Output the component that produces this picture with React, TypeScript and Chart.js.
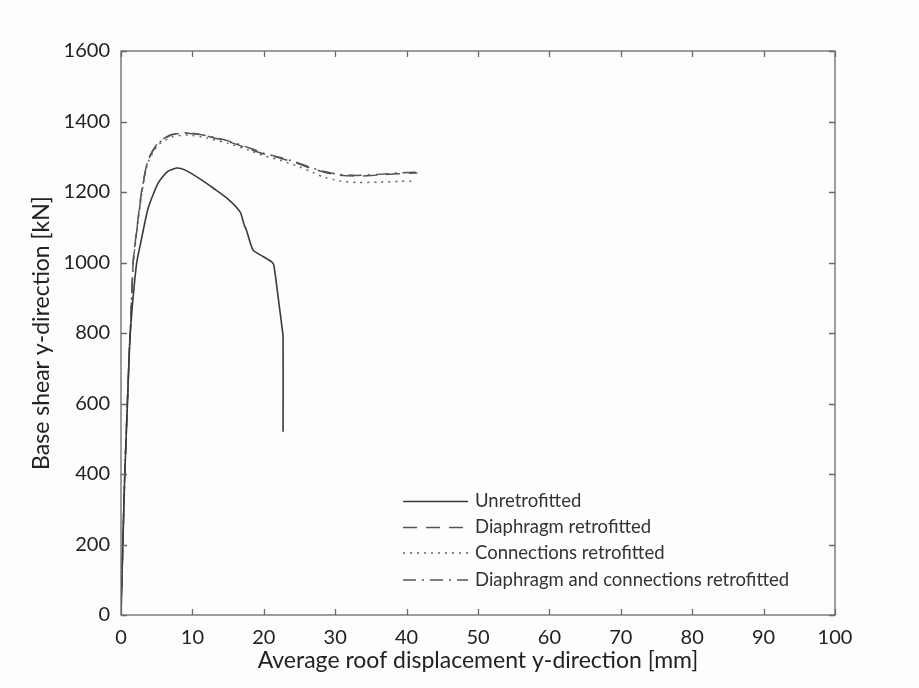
import React, { useEffect, useRef } from "react";
import { Chart, registerables } from "chart.js";

Chart.register(...registerables);

// ---- data ----
const xTickValues = [0, 10, 20, 30, 40, 50, 60, 70, 80, 90, 100];
const yTickValues = [0, 200, 400, 600, 800, 1000, 1200, 1400, 1600];

const seriesLabels = [
  "Unretrofitted",
  "Diaphragm retrofitted",
  "Connections retrofitted",
  "Diaphragm and connections retrofitted",
];

const unretroX = [0, 0.5, 0.9, 1.17, 1.3, 1.6, 2.2, 2.7, 3.8, 5.2, 6.5, 7.8, 9.0, 11.0, 13.0, 15.0, 16.7, 17.2, 17.6, 18.5, 19.9, 21.1, 21.4, 22.0, 22.6, 22.7, 22.7];
const unretroY = [0, 380, 600, 750, 800, 880, 1000, 1050, 1154, 1225, 1258, 1268, 1262, 1238, 1210, 1180, 1143, 1110, 1090, 1035, 1017, 1002, 993, 903, 808, 790, 520];

const diaphX = [0, 0.5, 1.17, 1.3, 1.7, 2.0, 2.9, 3.8, 5.2, 7.1, 9.4, 12, 15, 18, 20, 22.3, 24.5, 26.5, 28.5, 30.5, 33, 36, 39, 41.5];
const diaphY = [0, 380, 750, 800, 1000, 1058, 1205, 1292, 1340, 1363, 1367, 1359, 1343, 1322, 1308, 1296, 1283, 1268, 1256, 1248, 1245, 1248, 1252, 1254];

const connX = [0, 0.5, 1.17, 1.3, 1.7, 2.0, 2.9, 3.8, 5.2, 7.1, 9.4, 12, 15, 18, 20, 22.3, 24.5, 26.5, 28.3, 30.7, 33, 36, 39, 41.3];
const connY = [0, 380, 750, 800, 995, 1050, 1195, 1285, 1333, 1356, 1362, 1353, 1338, 1318, 1303, 1290, 1275, 1259, 1243, 1231, 1227, 1228, 1230, 1231];

const bothX = [0, 0.5, 1.17, 1.3, 1.7, 2.0, 2.9, 3.8, 5.2, 7.1, 9.4, 12, 15, 18, 20, 22.3, 24.5, 26.5, 28.5, 30.5, 33, 36, 39, 41.5];
const bothY = [0, 380, 750, 800, 1000, 1055, 1200, 1290, 1338, 1362, 1368, 1360, 1345, 1325, 1310, 1298, 1285, 1270, 1258, 1250, 1247, 1250, 1254, 1256];

const toPoints = (xs: number[], ys: number[]) => xs.map((x, i) => ({ x, y: ys[i] }));

const FONT = "Lato, 'Open Sans', sans-serif";

const frameAndLegend = {
  id: "frameAndLegend",
  afterDraw(chart: any) {
    const ctx = chart.ctx;
    const { left, right, top, bottom } = chart.chartArea;
    const xs = chart.scales.x;
    const ys = chart.scales.y;
    ctx.save();
    ctx.strokeStyle = "#6a6a6a";
    ctx.lineWidth = 1.3;
    ctx.setLineDash([]);
    ctx.strokeRect(left, top, right - left, bottom - top);
    const tl = 6;
    ctx.beginPath();
    xTickValues.forEach((v) => {
      const px = Math.round(xs.getPixelForValue(v)) + 0.5;
      ctx.moveTo(px, bottom);
      ctx.lineTo(px, bottom - tl);
      ctx.moveTo(px, top);
      ctx.lineTo(px, top + tl);
    });
    yTickValues.forEach((v) => {
      const py = Math.round(ys.getPixelForValue(v)) + 0.5;
      ctx.moveTo(left, py);
      ctx.lineTo(left + tl, py);
      ctx.moveTo(right, py);
      ctx.lineTo(right - tl, py);
    });
    ctx.stroke();

    // legend
    const rows = [501.5, 527.5, 553, 580];
    const x1 = 403;
    const x2 = 468;
    chart.data.datasets.forEach((ds: any, i: number) => {
      const y = rows[i];
      ctx.strokeStyle = ds.borderColor;
      ctx.lineWidth = ds.borderWidth;
      ctx.setLineDash(ds.borderDash || []);
      ctx.beginPath();
      ctx.moveTo(x1, y);
      ctx.lineTo(x2, y);
      ctx.stroke();
      ctx.setLineDash([]);
      ctx.fillStyle = "#333";
      ctx.font = `18.5px ${FONT}`;
      ctx.textBaseline = "middle";
      ctx.textAlign = "left";
      ctx.fillText(ds.label, 475, y);
    });
    ctx.restore();
  },
};

export default function App() {
  const ref = useRef<HTMLCanvasElement | null>(null);
  useEffect(() => {
    if (!ref.current) return;
    const chart = new Chart(ref.current, {
      type: "scatter",
      data: {
        datasets: [
          {
            label: seriesLabels[0],
            data: toPoints(unretroX, unretroY),
            showLine: true,
            borderColor: "#3a3a3a",
            borderWidth: 1.6,
            pointRadius: 0,
            tension: 0.2,
          },
          {
            label: seriesLabels[1],
            data: toPoints(diaphX, diaphY),
            showLine: true,
            borderColor: "#555",
            borderWidth: 1.5,
            borderDash: [14, 9],
            pointRadius: 0,
            tension: 0.2,
          },
          {
            label: seriesLabels[2],
            data: toPoints(connX, connY),
            showLine: true,
            borderColor: "#666",
            borderWidth: 1.5,
            borderDash: [2, 5],
            pointRadius: 0,
            tension: 0.2,
          },
          {
            label: seriesLabels[3],
            data: toPoints(bothX, bothY),
            showLine: true,
            borderColor: "#555",
            borderWidth: 1.5,
            borderDash: [13, 6, 2, 6],
            pointRadius: 0,
            tension: 0.2,
          },
        ] as any,
      },
      options: {
        responsive: false,
        animation: false,
        events: [],
        layout: { padding: { left: 0, right: 84, top: 51, bottom: 0 } },
        plugins: {
          legend: { display: false },
          tooltip: { enabled: false },
        },
        scales: {
          x: {
            type: "linear",
            min: 0,
            max: 100,
            afterFit: (s: any) => {
              s.height = 73;
            },
            afterBuildTicks: (s: any) => {
              s.ticks = xTickValues.map((v) => ({ value: v }));
            },
            grid: { display: false, drawTicks: false },
            border: { display: false },
            ticks: {
              padding: 11,
              color: "#222",
              font: { family: FONT, size: 20 },
              maxRotation: 0,
              callback: (v: any) => String(v),
            },
            title: {
              display: true,
              text: "Average roof displacement y-direction [mm]",
              color: "#222",
              font: { family: FONT, size: 23 },
              padding: { top: 0, bottom: 14 },
            },
          },
          y: {
            type: "linear",
            min: 0,
            max: 1600,
            afterFit: (s: any) => {
              s.width = 121;
            },
            afterBuildTicks: (s: any) => {
              s.ticks = yTickValues.map((v) => ({ value: v }));
            },
            grid: { display: false, drawTicks: false },
            border: { display: false },
            ticks: {
              padding: 11,
              color: "#222",
              font: { family: FONT, size: 20 },
              callback: (v: any) => String(v),
            },
            title: {
              display: true,
              text: "Base shear y-direction [kN]",
              color: "#222",
              font: { family: FONT, size: 23 },
              padding: { top: 28, bottom: 0 },
            },
          },
        },
      },
      plugins: [frameAndLegend],
    });
    return () => chart.destroy();
  }, []);
  return (
    <div
      style={{
        position: "absolute",
        left: 0,
        top: 0,
        width: 919,
        height: 688,
        background: "#fdfdfb",
      }}
    >
      <canvas ref={ref} width={919} height={688} style={{ display: "block" }} />
    </div>
  );
}
